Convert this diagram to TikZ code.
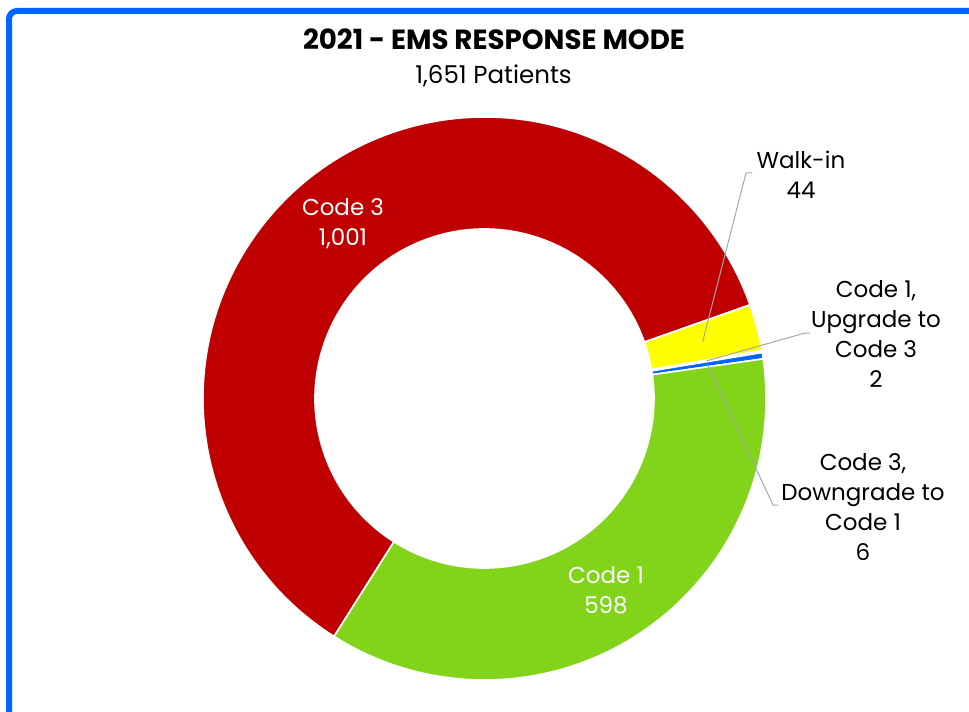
\documentclass[tikz,border=0pt]{standalone}
\usepackage{fontspec}
\setmainfont{Poppins}
\definecolor{frameblue}{RGB}{0,102,255}
\definecolor{c3red}{RGB}{192,0,0}
\definecolor{wyellow}{RGB}{255,255,0}
\definecolor{c1green}{RGB}{130,212,26}
\definecolor{slicegray}{RGB}{235,235,235}
\definecolor{leadergray}{RGB}{166,166,166}
\newcommand\donutslice[3]{%
  \filldraw[slice, fill=#1] (#2:211.125pt) arc[start angle=#2, end angle=#3, radius=211.125pt]
    -- (#3:127.125pt) arc[start angle=#3, end angle=#2, radius=127.125pt] -- cycle;}
\begin{document}
\begin{tikzpicture}[x=0.75pt,y=0.75pt,
  slice/.style={draw=white, line width=1.2pt, line join=round},
  lbl/.style={font=\fontsize{17.25pt}{22.5pt}\selectfont, align=center, anchor=base, inner sep=0pt},
  leader/.style={draw=leadergray, line width=0.75pt}]
\useasboundingbox (0,0) rectangle (969,711);
\begin{scope}
\clip (0,0) rectangle (969,711);
\draw[frameblue, line width=4.5pt, rounded corners=6pt] (9,-10) -- (9,700) -- (990,700);
\end{scope}
% title
\node[anchor=base, inner sep=0pt, font=\fontsize{20.8pt}{24pt}\selectfont\bfseries] (title) at (494,661) {2021 - EMS RESPONSE MODE};
\node[anchor=base, inner sep=0pt, font=\fontsize{18.4pt}{22pt}\selectfont] (subtitle) at (493.5,627) {1,651 Patients};
% donut
\begin{scope}[shift={(484.5,312.5)}]
\donutslice{c3red}{237.7}{19.432}
\donutslice{wyellow}{19.432}{9.838}
\donutslice{slicegray}{9.838}{9.402}
\donutslice{frameblue}{9.402}{8.094}
\donutslice{c1green}{8.094}{-122.3}
\coordinate (pwalk) at (14.635:169.125pt);
\coordinate (pup) at (9.62:169.125pt);
\coordinate (pdown) at (8.748:169.125pt);
\end{scope}
% labels (base anchor = baseline of last line)
\node[lbl, text=white] (lcode3) at (343,465) {Code 3\\1,001};
\node[lbl, text=white] (lcode1) at (606,98) {Code 1\\598};
\node[lbl] (lwalk) at (801,512) {Walk-in\\44};
\node[lbl] (lup) at (876,324) {Code 1,\\Upgrade to\\Code 3\\2};
\node[lbl] (ldown) at (863,151) {Code 3,\\Downgrade to\\Code 1\\6};
% leaders
\coordinate (awalk) at (752,538);
\coordinate (cwalk) at (746,538);
\coordinate (aup) at (810,378);
\coordinate (cup) at (805,378);
\coordinate (adown) at (778,206);
\coordinate (cdown) at (773,206);
\draw[leader] (awalk) -- (cwalk) -- (pwalk);
\draw[leader] (aup) -- (cup) -- (pup);
\draw[leader] (adown) -- (cdown) -- (pdown);
\end{tikzpicture}
\end{document}
